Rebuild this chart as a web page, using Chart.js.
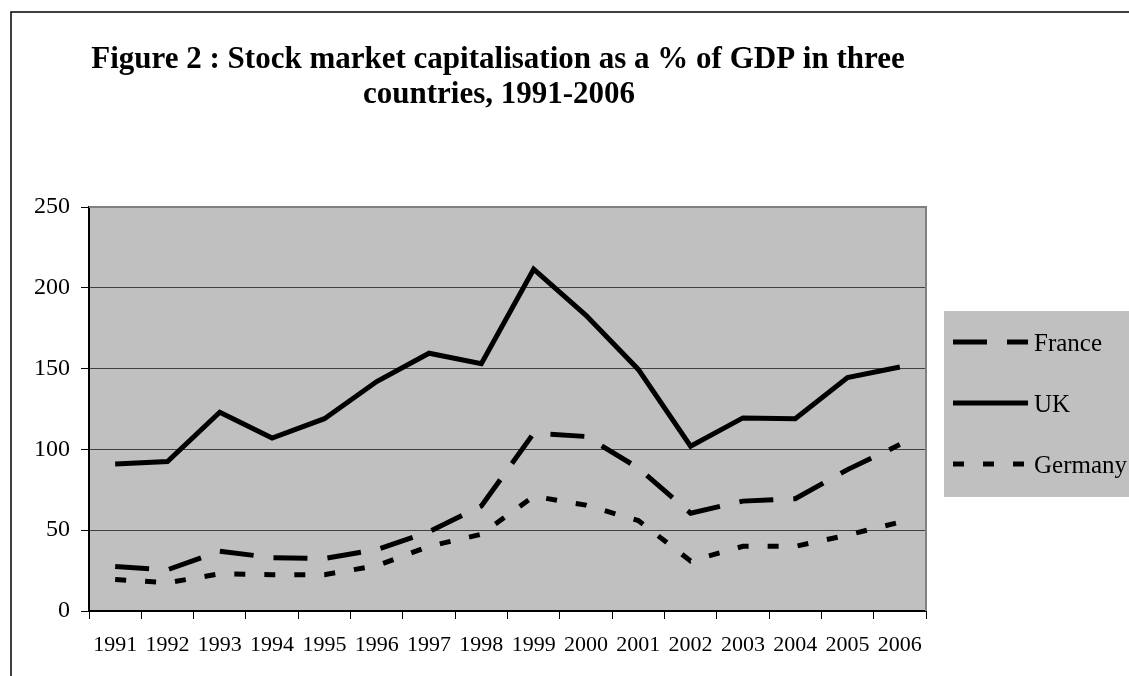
<!DOCTYPE html>
<html>
<head>
<meta charset="utf-8">
<script src="https://cdn.jsdelivr.net/npm/chart.js@4/dist/chart.umd.min.js"></script>
<style>
  html, body { margin: 0; padding: 0; background: #fff; }
  #wrap { width: 1129px; height: 676px; position: relative; }
  canvas { display: block; }
</style>
</head>
<body>
<div id="wrap"><canvas id="c" width="1129" height="676"></canvas></div>
<script>
const titleLines = ["Figure 2 : Stock market capitalisation as a % of GDP in three", "countries, 1991-2006"];
const years = ["1991","1992","1993","1994","1995","1996","1997","1998","1999","2000","2001","2002","2003","2004","2005","2006"];
const seriesNames = ["France", "UK", "Germany"];
const france = [27.5, 25.5, 37, 33, 32.5, 38, 49, 65, 110, 108, 88.5, 60.5, 68, 69.5, 87.5, 103];
const uk = [91, 92.5, 123, 107, 119, 142, 159.5, 153, 211.5, 183, 149.5, 102, 119.5, 119, 144.5, 151];
const germany = [19.5, 17.5, 23, 22.5, 22.5, 28, 40, 47.5, 71, 65.5, 56, 31, 40, 40, 47, 55];
const yTicks = [0, 50, 100, 150, 200, 250];

const SERIF = "'Liberation Serif', 'Times New Roman', serif";

const backgroundPlugin = {
  id: 'bg',
  beforeDraw(chart) {
    const { ctx, chartArea: a } = chart;
    ctx.save();
    ctx.fillStyle = '#ffffff';
    ctx.fillRect(0, 0, chart.width, chart.height);
    ctx.fillStyle = '#c0c0c0';
    ctx.fillRect(a.left, a.top, a.right - a.left, a.bottom - a.top);
    ctx.restore();
  }
};

const decorPlugin = {
  id: 'decor',
  afterDraw(chart) {
    const { ctx, chartArea: a } = chart;
    ctx.save();
    // plot frame (gray top & right)
    ctx.strokeStyle = '#808080';
    ctx.lineWidth = 2;
    ctx.beginPath();
    ctx.moveTo(a.left, a.top);
    ctx.lineTo(a.right, a.top);
    ctx.lineTo(a.right, a.bottom);
    ctx.stroke();

    // outer chart frame (top & left)
    ctx.strokeStyle = '#000';
    ctx.lineWidth = 1.5;
    ctx.beginPath();
    ctx.moveTo(11, chart.height);
    ctx.lineTo(11, 12);
    ctx.lineTo(chart.width, 12);
    ctx.stroke();

    // title
    ctx.fillStyle = '#000';
    ctx.font = "bold 31px " + SERIF;
    ctx.textAlign = 'center';
    ctx.textBaseline = 'alphabetic';
    ctx.fillText(titleLines[0], 498, 68);
    ctx.fillText(titleLines[1], 499, 103);

    // legend
    const lx = 944, ly = 311, lw = chart.width - 944 + 2, lh = 186;
    ctx.fillStyle = '#c0c0c0';
    ctx.fillRect(lx, ly, lw, lh);
    const rows = [342, 403, 464];
    chart.data.datasets.forEach((ds, i) => {
      const y = rows[i];
      ctx.strokeStyle = ds.borderColor;
      ctx.lineWidth = ds.borderWidth;
      ctx.lineCap = 'butt';
      ctx.setLineDash(ds.borderDash || []);
      ctx.beginPath();
      ctx.moveTo(953, y);
      ctx.lineTo(1028, y);
      ctx.stroke();
      ctx.setLineDash([]);
      ctx.fillStyle = '#000';
      ctx.font = "25px " + SERIF;
      ctx.textAlign = 'left';
      ctx.textBaseline = 'middle';
      ctx.fillText(ds.label, 1034, y + 2);
    });
    ctx.restore();
  }
};

new Chart(document.getElementById('c'), {
  type: 'line',
  data: {
    labels: years,
    datasets: [
      { label: seriesNames[0], data: france, borderColor: '#000', borderWidth: 5, borderDash: [34, 20], pointRadius: 0, tension: 0, fill: false, borderCapStyle: 'butt', borderJoinStyle: 'miter' },
      { label: seriesNames[1], data: uk, borderColor: '#000', borderWidth: 5, pointRadius: 0, tension: 0, fill: false, borderCapStyle: 'butt', borderJoinStyle: 'miter' },
      { label: seriesNames[2], data: germany, borderColor: '#000', borderWidth: 5, borderDash: [11, 19], pointRadius: 0, tension: 0, fill: false, borderCapStyle: 'butt', borderJoinStyle: 'miter' }
    ]
  },
  options: {
    responsive: false,
    animation: false,
    devicePixelRatio: 1,
    layout: { padding: { top: 207, right: 203, left: 0, bottom: 0 } },
    plugins: {
      legend: { display: false },
      title: { display: false },
      tooltip: { enabled: false }
    },
    scales: {
      x: {
        type: 'category',
        offset: true,
        grid: { display: true, drawOnChartArea: false, offset: true, tickLength: 8, color: '#000', lineWidth: 1 },
        border: { display: true, color: '#000', width: 2 },
        ticks: { color: '#000', font: { family: SERIF, size: 22 }, padding: 13, maxRotation: 0, autoSkip: false },
        afterFit(scale) { scale.height = 65; }
      },
      y: {
        min: 0,
        max: 250,
        afterBuildTicks(scale) { scale.ticks = yTicks.map(v => ({ value: v })); },
        grid: { color: '#404040', lineWidth: 1, tickLength: 8, tickColor: '#000' },
        border: { display: true, color: '#000', width: 2 },
        ticks: { color: '#000', font: { family: SERIF, size: 24 }, padding: 11 },
        afterFit(scale) { scale.width = 89; }
      }
    }
  },
  plugins: [backgroundPlugin, decorPlugin]
});
</script>
</body>
</html>
